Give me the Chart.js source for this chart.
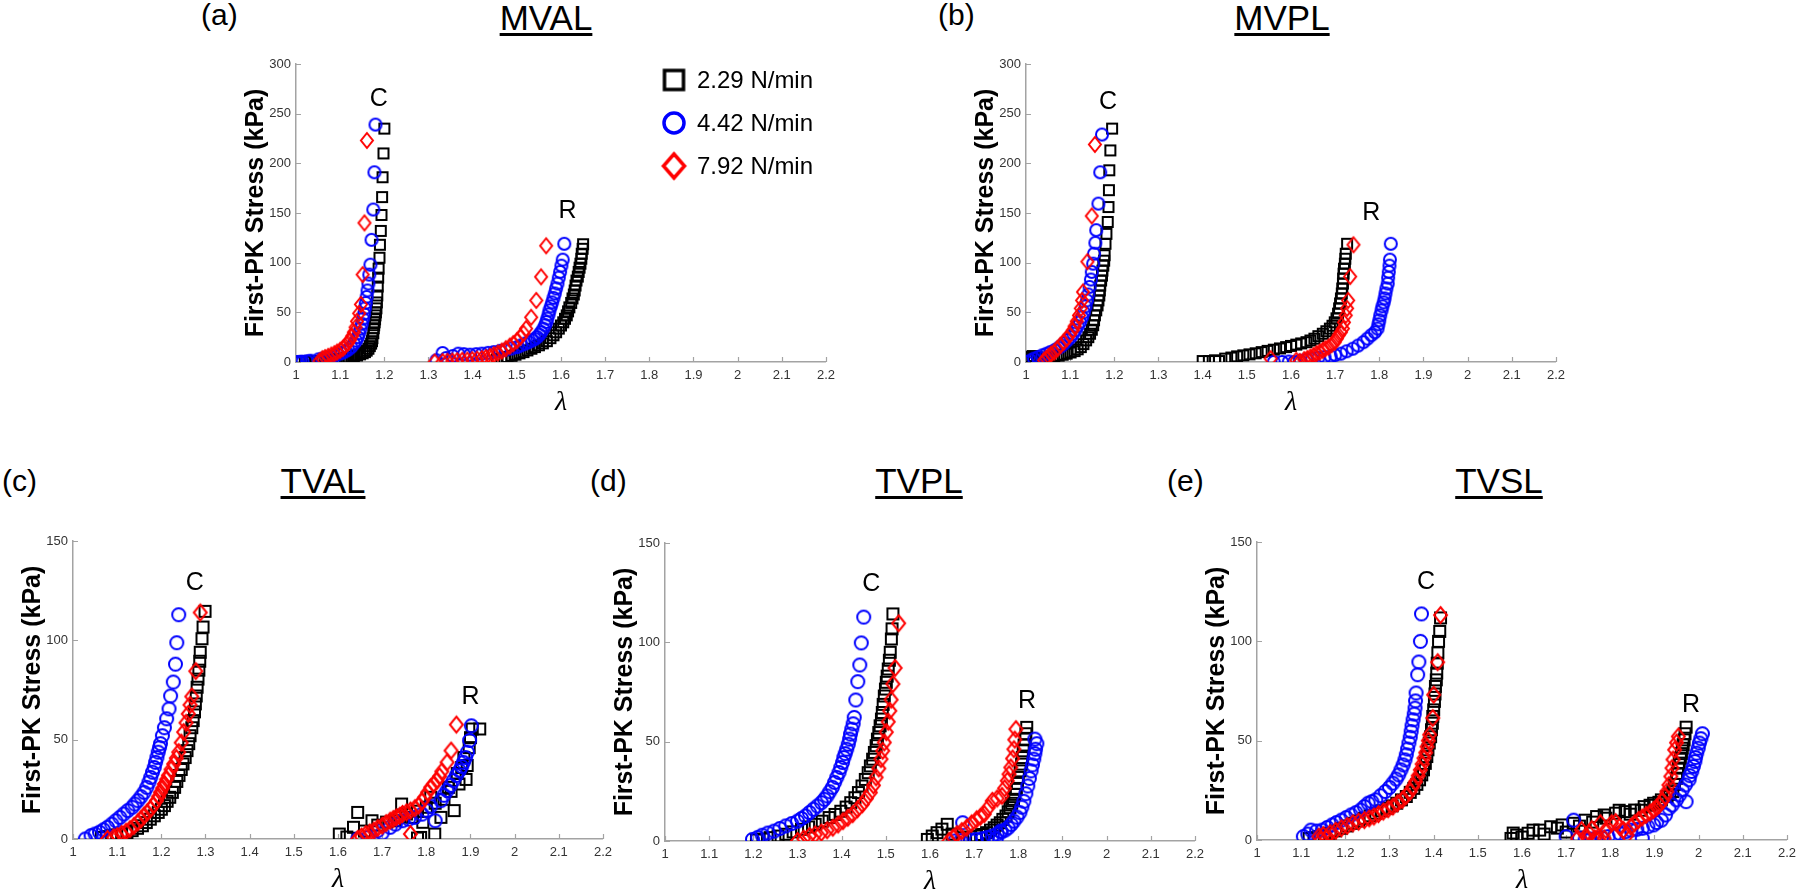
<!DOCTYPE html>
<html><head><meta charset="utf-8">
<script src="https://cdn.jsdelivr.net/npm/chart.js@4.4.1/dist/chart.umd.min.js"></script>
<style>
html,body{margin:0;padding:0;background:#fff;}
body{width:1800px;height:892px;position:relative;overflow:hidden;font-family:Arial,"Liberation Sans",Helvetica,sans-serif;}
canvas{position:absolute;}
.ttl{position:absolute;font-size:35px;line-height:35px;color:#000;text-decoration:underline;text-decoration-thickness:3px;text-underline-offset:3px;transform:translateX(-50%);white-space:nowrap;z-index:5}
.lab{position:absolute;font-size:30px;line-height:30px;color:#000;white-space:nowrap;z-index:5}
</style></head><body>
<script>
// ---------------- data ----------------
const X_TICKS = [1,1.1,1.2,1.3,1.4,1.5,1.6,1.7,1.8,1.9,2,2.1,2.2];
const X_TICK_LABELS = ['1','1.1','1.2','1.3','1.4','1.5','1.6','1.7','1.8','1.9','2','2.1','2.2'];
const Y_TICKS_MV = [0,50,100,150,200,250,300];
const Y_TICKS_TV = [0,50,100,150];
const RATE_LABELS = ['2.29 N/min','4.42 N/min','7.92 N/min'];
const PANEL_TITLES = ['MVAL','MVPL','TVAL','TVPL','TVSL'];
const PANEL_LETTERS = ['(a)','(b)','(c)','(d)','(e)'];
const Y_TITLE = 'First-PK Stress (kPa)';
const X_TITLE = 'λ';

// (a) MVAL
const MVAL_229 = [[1.009,0.5],[1.02,0.5],[1.03,0.6],[1.037,0.7],[1.045,0.8],[1.055,1],[1.065,1.3],[1.073,1.7],[1.082,2],[1.091,2.4],[1.097,2.9],[1.104,3.4],[1.111,3.9],[1.118,4.4],[1.125,5],[1.131,5.7],[1.138,6.6],[1.145,7.7],[1.151,8.8],[1.156,10],[1.16,11.5],[1.164,13.4],[1.167,16],[1.17,18.5],[1.172,21],[1.173,24],[1.175,29],[1.176,34],[1.177,37],[1.178,40],[1.179,43],[1.18,47],[1.181,50],[1.182,54],[1.183,60],[1.184,67],[1.185,76],[1.186,85],[1.187,94],[1.189,105],[1.19,118],[1.192,132],[1.1935,148],[1.195,166],[1.196,186],[1.198,210],[1.2,235],
  [1.455,2.5],[1.465,3.5],[1.472,1.7],[1.479,5],[1.488,6.2],[1.497,7.4],[1.506,8.7],[1.515,10],[1.524,11.7],[1.533,13.4],[1.541,15],[1.55,16.8],[1.559,18.8],[1.568,21],[1.576,24],[1.583,26.9],[1.589,30],[1.595,33.6],[1.6,36.8],[1.605,40],[1.609,43.5],[1.613,47],[1.616,51],[1.619,55],[1.623,59.5],[1.626,64],[1.629,68],[1.631,72],[1.633,77],[1.635,82],[1.638,86],[1.64,90.7],[1.642,95],[1.644,99],[1.646,104],[1.647,109],[1.649,114],[1.65,118.6]];
const MVAL_442 = [[1.002,0],[1.01,0.2],[1.015,0.3],[1.025,0.8],[1.033,1.3],[1.051,2.7],[1.06,3.5],[1.069,4.4],[1.078,5.4],[1.087,6.4],[1.095,7.6],[1.104,9],[1.111,10.6],[1.118,12.4],[1.125,15],[1.131,18.5],[1.136,21.5],[1.14,25],[1.143,29],[1.146,33.6],[1.149,38.5],[1.152,43.7],[1.154,48.5],[1.156,54],[1.158,59.5],[1.16,65.5],[1.162,72],[1.164,79],[1.166,88],[1.1685,98],[1.171,123],[1.175,153.5],[1.1775,191],[1.18,239],
  [1.318,1.7],[1.332,9],[1.34,4],[1.355,6],[1.3675,8.4],[1.38,7.9],[1.394,7.4],[1.408,7.9],[1.421,8.4],[1.435,9.2],[1.448,10],[1.462,11.2],[1.475,12.4],[1.488,13.6],[1.501,15],[1.51,16.8],[1.519,18.5],[1.527,20],[1.535,21.8],[1.541,23.4],[1.546,25],[1.551,27.5],[1.555,30],[1.56,33.5],[1.564,37],[1.567,40.3],[1.569,43.7],[1.572,48],[1.574,52],[1.577,56],[1.58,60],[1.583,64.5],[1.586,69],[1.589,74],[1.592,79],[1.595,85],[1.598,90.7],[1.601,97],[1.604,103],[1.6075,119]];
const MVAL_792 = [[1.053,1],[1.06,3.4],[1.066,4.5],[1.073,5.7],[1.08,7],[1.087,8.4],[1.093,10],[1.1,11.8],[1.106,13.8],[1.111,16],[1.117,19],[1.122,22],[1.127,26],[1.131,30],[1.135,35],[1.138,41],[1.143,49],[1.147,58],[1.151,88],[1.155,140],[1.1605,223],
  [1.314,0],[1.332,0.5],[1.343,0.8],[1.354,1],[1.365,1.4],[1.3765,1.7],[1.388,2],[1.399,2.4],[1.41,2.9],[1.421,3.4],[1.43,4.5],[1.439,5.7],[1.448,7.3],[1.457,9],[1.466,11],[1.475,13.4],[1.484,16],[1.492,18.5],[1.5,21.5],[1.508,25],[1.515,29],[1.521,33.6],[1.5325,45],[1.544,62],[1.555,85.7],[1.5665,117]];
const MVAL_C = [1.1875,265];
const MVAL_R = [1.6147,152];

// (b) MVPL
const MVPL_229 = [[1.002,2.4],[1.005,5],[1.01,2.9],[1.015,6],[1.018,3.4],[1.025,4.5],[1.028,3.7],[1.037,4],[1.046,4.5],[1.055,5],[1.064,5.7],[1.074,6.4],[1.083,7.3],[1.092,8.4],[1.101,9.6],[1.11,11],[1.117,12.8],[1.124,15],[1.13,18],[1.136,21.8],[1.141,25],[1.145,28.5],[1.149,32.5],[1.152,37],[1.154,42],[1.156,47],[1.159,52],[1.162,57],[1.164,62],[1.166,67],[1.167,72],[1.168,77],[1.17,82],[1.172,87],[1.173,92],[1.175,97],[1.177,102],[1.178,107.5],[1.18,119],[1.182,129],[1.185,141],[1.1868,156],[1.1877,173],[1.1886,193],[1.191,213],[1.195,235],
  [1.4,1],[1.414,1],[1.428,1.7],[1.437,1],[1.451,3.4],[1.465,4.5],[1.478,5.7],[1.492,6.7],[1.506,7.7],[1.52,8.8],[1.5336,10],[1.547,11.2],[1.561,12.4],[1.575,13.7],[1.589,15],[1.6,16.2],[1.612,17.5],[1.623,18.7],[1.635,20],[1.644,21.7],[1.653,23.5],[1.662,26],[1.672,28.5],[1.68,31],[1.688,33.6],[1.694,36.5],[1.699,40],[1.703,44],[1.7065,48.7],[1.709,54],[1.711,59],[1.713,64],[1.715,69],[1.716,74],[1.7176,79],[1.718,84],[1.719,89],[1.72,94],[1.722,99],[1.723,104],[1.724,109],[1.727,119]];
const MVPL_442 = [[1.002,0],[1.01,1.5],[1.018,3.4],[1.028,5],[1.037,6.7],[1.046,8.3],[1.055,10],[1.065,12],[1.074,14.4],[1.081,16.5],[1.087,19],[1.094,22],[1.101,25],[1.107,28.5],[1.112,32],[1.117,36],[1.122,40],[1.127,45],[1.131,50],[1.135,56],[1.138,62],[1.141,68],[1.144,75.6],[1.147,83],[1.149,90.7],[1.152,99],[1.154,109],[1.157,120],[1.159,132.7],[1.164,159.5],[1.168,191],[1.172,229],
  [1.561,0],[1.58,0],[1.595,0.5],[1.607,0],[1.62,1.3],[1.635,2.4],[1.648,3.3],[1.662,4.4],[1.676,5],[1.69,5.7],[1.7,7],[1.713,8.4],[1.726,10.8],[1.74,13.4],[1.752,16.5],[1.764,20],[1.773,23.5],[1.782,27],[1.79,30],[1.796,33.6],[1.798,38],[1.8,42],[1.802,47],[1.805,52],[1.807,56],[1.81,60],[1.812,64],[1.814,69],[1.816,74],[1.819,79],[1.82,85],[1.8215,90.7],[1.823,97],[1.824,103],[1.826,119]];
const MVPL_792 = [[1.041,1.7],[1.046,3.5],[1.051,5.7],[1.057,8],[1.064,10],[1.071,13.3],[1.078,16.8],[1.085,20],[1.092,23.5],[1.099,27.5],[1.106,32],[1.11,36],[1.115,41],[1.12,47],[1.124,54],[1.127,62],[1.129,70.5],[1.139,101],[1.149,147],[1.156,219],
  [1.554,3.4],[1.612,1.7],[1.62,0.5],[1.63,2.4],[1.637,3.5],[1.644,5],[1.651,6.5],[1.658,8.4],[1.665,10],[1.672,11.8],[1.678,13.4],[1.685,15],[1.692,17.5],[1.699,20],[1.704,23.5],[1.708,27],[1.713,30],[1.7176,33.6],[1.72,40],[1.724,47],[1.727,54],[1.7295,62],[1.734,86],[1.7415,118]];
const MVPL_C = [1.186,262];
const MVPL_R = [1.782,150];

// (c) TVAL
const TVAL_229 = [[1.064,0.8],[1.076,1.2],[1.0875,1.7],[1.099,2.1],[1.11,2.5],[1.122,3.3],[1.134,4.2],[1.146,5.4],[1.157,6.7],[1.166,8.3],[1.175,10],[1.184,11.7],[1.193,13.4],[1.2,15],[1.207,16.8],[1.213,19],[1.219,21],[1.225,23.5],[1.23,26],[1.235,29],[1.24,32],[1.245,35],[1.249,37.8],[1.254,41],[1.258,44.5],[1.262,48],[1.265,52],[1.269,56],[1.272,59.6],[1.275,64],[1.277,68],[1.279,72],[1.281,76.4],[1.283,80.5],[1.285,85],[1.287,89.5],[1.288,94],[1.292,100.8],[1.2945,106.7],[1.299,114.6],
  [1.603,2.5],[1.62,1],[1.635,5.9],[1.6445,13.4],[1.66,4],[1.677,9.2],[1.69,7],[1.71,8.5],[1.728,9.2],[1.74,11],[1.744,17.6],[1.755,12.6],[1.769,10.9],[1.78,14],[1.78,0.5],[1.787,0.8],[1.792,8.4],[1.8,16],[1.81,21],[1.819,2.5],[1.82,18],[1.833,10.9],[1.84,20],[1.85,26],[1.856,24],[1.863,14.3],[1.87,33],[1.874,27.7],[1.88,36],[1.885,41],[1.89,30],[1.8925,37],[1.897,46],[1.9,51],[1.904,55.4],[1.921,55.4]];
const TVAL_442 = [[1.028,0],[1.041,1.7],[1.05,2.5],[1.06,3.4],[1.069,4.6],[1.078,5.9],[1.088,7.5],[1.097,9.2],[1.106,10.9],[1.115,12.6],[1.124,14.3],[1.134,16],[1.14,17.6],[1.147,19.3],[1.154,21.3],[1.161,23.5],[1.167,26],[1.172,28.6],[1.176,31],[1.18,33.6],[1.184,36],[1.187,38.6],[1.19,41],[1.193,43.7],[1.196,46],[1.198,48],[1.2025,52],[1.207,56],[1.212,60.5],[1.2175,65.5],[1.221,72],[1.227,79],[1.232,88],[1.235,98.8],[1.2394,112.9],
  [1.645,0],[1.668,0.8],[1.69,4.2],[1.7,3],[1.718,5.9],[1.73,7.5],[1.746,9.2],[1.76,10],[1.7735,10.9],[1.79,12.5],[1.801,14.3],[1.81,16.5],[1.82,9.2],[1.833,19.3],[1.84,22],[1.847,24.4],[1.855,27],[1.861,29.4],[1.868,32],[1.875,34.4],[1.88,36.5],[1.884,38.6],[1.889,41],[1.893,43.7],[1.898,49.6],[1.902,57]];
const TVAL_792 = [[1.078,0],[1.092,0.8],[1.1,1.5],[1.11,2.5],[1.12,3.7],[1.129,5],[1.138,6.6],[1.147,8.4],[1.154,10],[1.161,11.8],[1.168,13.4],[1.175,15],[1.182,17],[1.189,19.3],[1.194,21.4],[1.198,23.5],[1.203,25.6],[1.207,27.7],[1.212,30],[1.216,32],[1.222,35],[1.228,37.8],[1.234,40.7],[1.2394,43.7],[1.245,48.5],[1.2505,53.8],[1.256,58.5],[1.261,63],[1.265,67.5],[1.269,71.7],[1.278,84.5],[1.288,114],
  [1.6445,0],[1.653,1.2],[1.663,2.5],[1.672,3.3],[1.681,4.2],[1.69,5.5],[1.7,6.7],[1.709,8],[1.718,9.2],[1.725,10],[1.732,10.9],[1.74,11.7],[1.746,12.6],[1.755,13.4],[1.764,14.3],[1.764,2.5],[1.774,15.5],[1.783,16.8],[1.79,19],[1.7965,21],[1.803,23.5],[1.81,26],[1.817,27.7],[1.824,29.4],[1.83,31.5],[1.835,34],[1.847,38.6],[1.856,44.5],[1.868,57.6]];
const TVAL_C = [1.276,129];
const TVAL_R = [1.9,71.4];

// (d) TVPL
const TVPL_229 = [[1.207,0.5],[1.222,1],[1.238,1.7],[1.256,2.5],[1.2735,3.4],[1.29,4.6],[1.309,5.9],[1.325,7.1],[1.34,8.4],[1.356,10],[1.3715,11.8],[1.385,13.4],[1.398,15],[1.41,17.1],[1.4205,19.3],[1.43,21.8],[1.438,24.4],[1.446,27.7],[1.4535,31],[1.46,34.4],[1.465,37.8],[1.47,41.2],[1.474,44.6],[1.478,48],[1.481,51.3],[1.484,54.6],[1.487,58],[1.49,61.4],[1.492,64.7],[1.494,68.8],[1.4965,73],[1.499,76.5],[1.501,79.9],[1.503,83],[1.5055,86.6],[1.508,91],[1.51,95],[1.5125,101.7],[1.514,106.8],[1.516,114.3],
  [1.594,0.8],[1.605,2.5],[1.616,4.2],[1.627,6],[1.639,8.4],[1.65,3.5],[1.674,1.7],[1.69,2],[1.7055,2.5],[1.717,3.3],[1.728,4.2],[1.737,5.5],[1.7455,6.7],[1.752,8],[1.759,9.2],[1.765,10.9],[1.772,12.6],[1.777,14.7],[1.781,16.8],[1.785,19],[1.789,21],[1.792,23.5],[1.7955,26],[1.798,29],[1.8,32],[1.804,35.3],[1.8075,38.7],[1.809,42],[1.811,45.4],[1.813,48.3],[1.8155,51.3],[1.817,54],[1.819,57.2]];
const TVPL_442 = [[1.198,0.8],[1.21,1.8],[1.22,2.9],[1.233,4],[1.247,5],[1.26,6.3],[1.2735,7.6],[1.287,8.8],[1.3,10],[1.309,11.3],[1.318,12.6],[1.327,14.3],[1.336,16],[1.345,17.6],[1.354,19.3],[1.361,21],[1.367,22.7],[1.373,24.8],[1.379,27],[1.384,29.5],[1.389,32],[1.394,34.5],[1.398,37],[1.402,39.5],[1.405,42],[1.408,44],[1.4115,46.2],[1.415,48.7],[1.418,51.3],[1.42,53.8],[1.423,56.3],[1.426,59],[1.4285,62.2],[1.432,71],[1.4365,80.2],[1.441,88.6],[1.4445,99.7],[1.45,112.7],
  [1.6565,0],[1.67,0.3],[1.674,9.2],[1.692,0.5],[1.705,0.8],[1.719,1.2],[1.73,1.8],[1.741,2.5],[1.75,1],[1.752,3.5],[1.76,5],[1.7615,4.5],[1.77,5.5],[1.777,6.7],[1.784,8.3],[1.79,10],[1.797,12],[1.8035,14.3],[1.808,17],[1.8125,20],[1.817,23.8],[1.8215,27.7],[1.825,31.5],[1.829,35.3],[1.832,38.3],[1.835,41.2],[1.8375,44],[1.839,46.2],[1.842,49],[1.8375,51.3]];
const TVPL_792 = [[1.3,0],[1.314,1.2],[1.327,2.5],[1.34,3.3],[1.354,4.2],[1.367,5.4],[1.38,6.7],[1.392,8.3],[1.403,10],[1.414,11.7],[1.425,13.5],[1.436,16],[1.447,18.5],[1.456,21.4],[1.465,24.4],[1.472,28],[1.478,32],[1.484,36.5],[1.489,41.2],[1.493,45.4],[1.4965,49.6],[1.501,54.8],[1.5055,60],[1.509,65.5],[1.512,71.1],[1.516,79],[1.521,87.1],[1.529,109.6],
  [1.643,0],[1.652,1.7],[1.661,3.4],[1.672,5],[1.683,6.7],[1.694,8.8],[1.7055,10.9],[1.714,12.2],[1.723,13.5],[1.732,16.8],[1.741,20.2],[1.752,21.4],[1.763,22.7],[1.769,26.5],[1.775,30.3],[1.779,33.6],[1.783,37],[1.787,41.5],[1.79,46.2],[1.792,51],[1.7945,56.3]];
const TVPL_C = [1.4668,129.5];
const TVPL_R = [1.8196,70.6];

// (e) TVSL
const TVSL_229 = [[1.118,0.8],[1.129,1.2],[1.14,1.7],[1.153,2.5],[1.1655,3.4],[1.178,4.6],[1.191,5.9],[1.204,7.1],[1.217,8.4],[1.23,9.6],[1.243,10.9],[1.256,12.2],[1.269,13.5],[1.282,14.7],[1.295,16],[1.306,17.2],[1.3164,18.5],[1.327,20.2],[1.338,21.9],[1.347,24],[1.355,26],[1.362,28],[1.368,30.3],[1.373,32.8],[1.377,35.3],[1.381,38.6],[1.3845,42],[1.387,45.4],[1.39,48.8],[1.393,52],[1.395,55.5],[1.397,58.8],[1.398,62.2],[1.4,65.5],[1.4017,69.8],[1.403,73.5],[1.404,77.3],[1.406,80.6],[1.407,84],[1.408,89],[1.4095,94.2],[1.411,100],[1.4138,105],[1.4155,111.8],
  [1.575,0.8],[1.58,3.5],[1.588,2.5],[1.6,1.5],[1.6138,3.4],[1.625,5],[1.64,5],[1.65,3],[1.665,6.7],[1.68,6],[1.691,7.6],[1.7,4],[1.717,8.4],[1.73,7],[1.743,10],[1.76,9],[1.769,11.8],[1.786,12.6],[1.79,11],[1.812,13.5],[1.82,15],[1.8336,14.3],[1.845,13],[1.855,15.1],[1.87,15],[1.8767,16.8],[1.89,17.5],[1.898,18.5],[1.91,19],[1.9155,20.2],[1.9284,21.9],[1.935,23],[1.9414,24.4],[1.945,28],[1.95,31.1],[1.952,33.5],[1.954,36.2],[1.956,38.7],[1.9586,41.2],[1.961,43.5],[1.963,46.2],[1.965,48],[1.967,50.4],[1.969,53.5],[1.9716,56.8]];
const TVSL_442 = [[1.105,1.7],[1.115,3],[1.122,5],[1.135,4.5],[1.148,5],[1.159,6.3],[1.17,7.6],[1.18,8.8],[1.191,10],[1.202,11.3],[1.213,12.6],[1.224,13.8],[1.2345,15.1],[1.243,16.8],[1.2517,18.5],[1.26,19.3],[1.269,20.2],[1.28,22.3],[1.2905,24.4],[1.3,26.5],[1.3078,28.6],[1.315,30.7],[1.3207,32.8],[1.326,35.3],[1.331,37.8],[1.335,40.3],[1.338,42.9],[1.341,45.8],[1.344,48.8],[1.347,51.7],[1.349,54.6],[1.351,57.5],[1.3534,60.5],[1.356,63.4],[1.3578,66.4],[1.359,70],[1.3603,74],[1.3638,83.2],[1.3664,89.6],[1.37,100],[1.3724,113.8],
  [1.7,1.7],[1.717,10],[1.73,1],[1.743,0],[1.755,0.5],[1.769,0.8],[1.78,1.2],[1.7948,1.7],[1.81,2.5],[1.8207,3.4],[1.835,4.2],[1.8466,5],[1.86,5.4],[1.8724,5.9],[1.8724,0.8],[1.885,6.7],[1.898,7.6],[1.905,8.8],[1.9155,10],[1.925,12.6],[1.9328,16],[1.94,17.6],[1.95,20.2],[1.957,22.7],[1.963,25.2],[1.97,27.7],[1.9716,19.3],[1.98,32.4],[1.9784,30.3],[1.9845,34.5],[1.988,37],[1.9914,39.5],[1.993,41.5],[1.9957,43.7],[1.999,46.2],[2.0017,48.8],[2.005,51],[2.0086,53.5]];
const TVSL_792 = [[1.145,0],[1.14,1.7],[1.15,2.5],[1.157,0.8],[1.1655,3.4],[1.178,4.6],[1.191,5.9],[1.204,7.1],[1.217,8.4],[1.23,9.2],[1.243,10],[1.254,10.9],[1.2647,11.8],[1.275,13],[1.286,14.3],[1.297,15.5],[1.3078,16.8],[1.318,18.5],[1.329,20.2],[1.338,22.3],[1.3466,24.4],[1.353,26.9],[1.359,29.4],[1.365,32.4],[1.3698,35.3],[1.374,38.2],[1.378,41.2],[1.382,44],[1.385,47],[1.388,50],[1.391,53],[1.398,61.4],[1.4,73.1],[1.409,89.5],[1.4155,113.2],
  [1.7259,0.8],[1.7345,5],[1.745,2],[1.7517,3.4],[1.758,5.5],[1.7647,0.8],[1.773,0],[1.7776,8.4],[1.786,0.8],[1.79,5],[1.803,8.4],[1.812,9],[1.8207,6.7],[1.83,5],[1.838,2.5],[1.8466,6.7],[1.855,8.4],[1.8638,10],[1.872,11.3],[1.881,12.6],[1.89,13.8],[1.898,15.1],[1.905,16.4],[1.911,17.7],[1.918,19.7],[1.924,21.9],[1.928,24.4],[1.9328,27.7],[1.937,32],[1.9397,36.2],[1.942,40.5],[1.9457,45.4],[1.95,49],[1.954,52.1]];
const TVSL_C = [1.383,130];
const TVSL_R = [1.9828,68];

// ---------------- markers ----------------
function marker(shape, color, w, h, lw) {
  const c = document.createElement('canvas');
  const pad = Math.ceil(lw) + 1;
  c.width = Math.ceil(w + 2 * pad); c.height = Math.ceil(h + 2 * pad);
  const g = c.getContext('2d');
  g.strokeStyle = color; g.lineWidth = lw; g.lineJoin = 'miter';
  const cx = c.width / 2, cy = c.height / 2;
  g.beginPath();
  if (shape === 'sq') g.rect(cx - w / 2, cy - h / 2, w, h);
  else if (shape === 'ci') g.ellipse(cx, cy, w / 2, h / 2, 0, 0, Math.PI * 2);
  else { g.moveTo(cx, cy - h / 2); g.lineTo(cx + w / 2, cy); g.lineTo(cx, cy + h / 2); g.lineTo(cx - w / 2, cy); g.closePath(); }
  g.stroke();
  return c;
}
const MK_TOP = [marker('sq', '#000000', 10, 10, 2), marker('ci', '#0000ff', 12, 12, 2), marker('di', '#ff0000', 12, 15, 2)];
const MK_BOT = [marker('sq', '#000000', 11, 11, 2), marker('ci', '#0000ff', 13, 13, 2), marker('di', '#ff0000', 13, 16, 2)];
const COLORS = ['#000000', '#0000ff', '#ff0000'];

// ---------------- plugin ----------------
const AXIS_COLOR = '#a3a3a3';
const decor = {
  id: 'decor',
  beforeDatasetsDraw(chart) {
    const {ctx, chartArea: a, scales: {x, y}} = chart;
    ctx.save();
    ctx.strokeStyle = AXIS_COLOR; ctx.lineWidth = 1.2;
    ctx.beginPath();
    for (const v of X_TICKS) { const px = Math.round(x.getPixelForValue(v)) + 0.5; ctx.moveTo(px, a.bottom); ctx.lineTo(px, a.bottom - 5); }
    for (const v of chart.$yticks) { const py = Math.round(y.getPixelForValue(v)) + 0.5; ctx.moveTo(a.left, py); ctx.lineTo(a.left + 5, py); }
    ctx.stroke();
    ctx.restore();
  },
  afterDatasetsDraw(chart) {
    const {ctx, scales: {x, y}} = chart;
    const p = chart.$panel;
    ctx.save();
    ctx.fillStyle = '#000';
    ctx.font = '25px Arial, "Liberation Sans", sans-serif';
    ctx.textAlign = 'center'; ctx.textBaseline = 'middle';
    ctx.fillText('C', x.getPixelForValue(p.c[0]), y.getPixelForValue(p.c[1]));
    ctx.fillText('R', x.getPixelForValue(p.r[0]), y.getPixelForValue(p.r[1]));
    if (p.legend) {
      const ox = chart.$ox, oy = chart.$oy;
      const L = p.legend;
      ctx.font = '24px Arial, "Liberation Sans", sans-serif';
      ctx.textAlign = 'left';
      const lm = [marker('sq', '#000', 19, 19, 3.5), marker('ci', '#0000ff', 20, 20, 3.5), marker('di', '#ff0000', 21, 24, 3.5)];
      for (let i = 0; i < 3; i++) {
        const yy = L.rows[i] - oy;
        const m = lm[i];
        ctx.drawImage(m, L.mx - ox - m.width / 2, yy - m.height / 2);
        ctx.fillText(RATE_LABELS[i], L.tx - ox, yy + 1);
      }
    }
    ctx.restore();
  }
};

// ---------------- panels ----------------
const PANELS = [
  {rect: [296, 64, 829, 362], ymax: 300, yt: Y_TICKS_MV, s: [MVAL_229, MVAL_442, MVAL_792], c: MVAL_C, r: MVAL_R, mk: MK_TOP,
   legend: {mx: 674, tx: 697, rows: [80, 123, 166]}},
  {rect: [1026, 64, 1559, 362], ymax: 300, yt: Y_TICKS_MV, s: [MVPL_229, MVPL_442, MVPL_792], c: MVPL_C, r: MVPL_R, mk: MK_TOP},
  {rect: [73, 541, 606, 839], ymax: 150, yt: Y_TICKS_TV, s: [TVAL_229, TVAL_442, TVAL_792], c: TVAL_C, r: TVAL_R, mk: MK_BOT},
  {rect: [665, 543, 1198, 841], ymax: 150, yt: Y_TICKS_TV, s: [TVPL_229, TVPL_442, TVPL_792], c: TVPL_C, r: TVPL_R, mk: MK_BOT},
  {rect: [1257, 542, 1790, 840], ymax: 150, yt: Y_TICKS_TV, s: [TVSL_229, TVSL_442, TVSL_792], c: TVSL_C, r: TVSL_R, mk: MK_BOT}
];

const PADL = 75, PADT = 25, PADR = 12, XH = 62;
const TICK_FONT = {family: 'Arial, "Liberation Sans", Helvetica, sans-serif', size: 13};

PANELS.forEach((p) => {
  const [l, t, r, b] = p.rect;
  const cv = document.createElement('canvas');
  const W = r - l + PADL + PADR, H = b - t + PADT + XH;
  cv.width = W; cv.height = H;
  cv.style.left = (l - PADL) + 'px'; cv.style.top = (t - PADT) + 'px';
  cv.style.width = W + 'px'; cv.style.height = H + 'px';
  document.body.appendChild(cv);
  const ds = [2, 1, 0].map((i, k) => ({
    label: RATE_LABELS[i],
    data: p.s[i].map(([x, y]) => ({x, y})),
    pointStyle: p.mk[i], pointRadius: 6, borderColor: COLORS[i], backgroundColor: 'rgba(0,0,0,0)',
    showLine: false, order: k
  }));
  new Chart(cv, {
    type: 'scatter',
    data: {datasets: ds},
    options: {
      responsive: false, animation: false, devicePixelRatio: 1, events: [],
      layout: {padding: {left: 0, top: PADT, right: PADR, bottom: 0}},
      plugins: {legend: {display: false}, tooltip: {enabled: false}},
      scales: {
        x: {
          type: 'linear', min: 1, max: 2.2,
          afterBuildTicks: (s) => { s.ticks = X_TICKS.map(v => ({value: v})); },
          afterFit: (s) => { s.height = XH; },
          ticks: {callback: (v) => X_TICK_LABELS[X_TICKS.indexOf(v)], font: TICK_FONT, color: '#333', padding: 6, maxRotation: 0, autoSkip: false},
          grid: {display: true, drawOnChartArea: false, drawTicks: false},
          border: {display: true, color: AXIS_COLOR, width: 1.5},
          title: {display: true, text: X_TITLE, color: '#000', font: {family: '"Liberation Serif", "DejaVu Serif", serif', size: 28, style: 'italic'}, padding: {top: 0, bottom: 5}}
        },
        y: {
          type: 'linear', min: 0, max: p.ymax,
          afterBuildTicks: (s) => { s.ticks = p.yt.map(v => ({value: v})); },
          afterFit: (s) => { s.width = PADL; },
          ticks: {font: TICK_FONT, color: '#333', padding: 5, autoSkip: false},
          grid: {display: true, drawOnChartArea: false, drawTicks: false},
          border: {display: true, color: AXIS_COLOR, width: 1.5},
          title: {display: true, text: Y_TITLE, color: '#000', font: {family: 'Arial, "Liberation Sans", sans-serif', size: 25, weight: 'bold'}, padding: {top: 20, bottom: 0}}
        }
      }
    },
    plugins: [{id: 'setup', beforeInit(c) { c.$panel = p; c.$yticks = p.yt; c.$ox = l - PADL; c.$oy = t - PADT; }}, decor]
  });
});

// ---------------- titles & panel letters (HTML text) ----------------
const TITLE_POS = [[546, 0], [1282, 0], [323, 463], [919, 463], [1499, 463]];
const LETTER_POS = [[201, 0], [938, 0], [2, 466], [590, 466], [1167, 466]];
PANEL_TITLES.forEach((tx, i) => {
  const d = document.createElement('div'); d.className = 'ttl'; d.textContent = tx;
  d.style.left = TITLE_POS[i][0] + 'px'; d.style.top = TITLE_POS[i][1] + 'px';
  document.body.appendChild(d);
});
PANEL_LETTERS.forEach((tx, i) => {
  const d = document.createElement('div'); d.className = 'lab'; d.textContent = tx;
  d.style.left = LETTER_POS[i][0] + 'px'; d.style.top = LETTER_POS[i][1] + 'px';
  document.body.appendChild(d);
});
</script>
</body></html>
